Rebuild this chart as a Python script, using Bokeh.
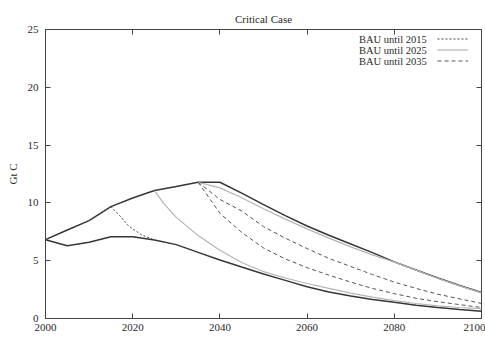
from bokeh.plotting import figure
from bokeh.models import Range1d, LinearAxis, FixedTicker, Legend, LegendItem
from bokeh.embed import file_html
from bokeh.resources import INLINE

# ---- data ----
years = [2000, 2005, 2010, 2015, 2020, 2025, 2030, 2035, 2040, 2045, 2050,
         2055, 2060, 2065, 2070, 2075, 2080, 2085, 2090, 2095, 2100]
upper = [6.82, 7.66, 8.47, 9.68, 10.43, 11.07, 11.41, 11.79, 11.79, 10.85, 9.85,
         8.9, 8.0, 7.2, 6.45, 5.7, 4.9, 4.2, 3.5, 2.85, 2.25]
lower = [6.82, 6.3, 6.59, 7.08, 7.08, 6.79, 6.39, 5.72, 5.06, 4.45, 3.85,
         3.3, 2.75, 2.3, 1.95, 1.65, 1.4, 1.15, 0.95, 0.78, 0.62]

years_2015 = [2015, 2017, 2019, 2020, 2022, 2025]
bau_2015 = [9.68, 8.9, 8.03, 7.75, 7.25, 6.79]

years_2025 = [2025, 2027, 2030, 2035, 2040, 2045, 2050, 2055, 2060, 2065, 2070,
              2075, 2080, 2085, 2090, 2095, 2100]
bau_2025 = [11.07, 10.0, 8.75, 7.17, 5.9, 4.85, 4.05, 3.5, 3.03, 2.6, 2.2,
            1.85, 1.55, 1.3, 1.1, 0.95, 0.85]

years_2035 = [2035, 2040, 2045, 2050, 2055, 2060, 2065, 2070, 2075, 2080,
              2085, 2090, 2095, 2100]
bau_2035_gray = [11.79, 11.3, 10.45, 9.5, 8.6, 7.75, 6.95, 6.2, 5.5, 4.88,
                 4.18, 3.48, 2.82, 2.22]
bau_2035_a = [11.79, 10.3, 9.3, 7.95, 6.95, 6.05, 5.2, 4.5, 3.8, 3.15,
              2.6, 2.1, 1.7, 1.3]
bau_2035_b = [11.79, 9.1, 7.45, 6.1, 5.15, 4.4, 3.75, 3.15, 2.6, 2.15,
              1.75, 1.45, 1.2, 0.95]

x_ticks = [2000, 2020, 2040, 2060, 2080, 2100]
y_ticks = [0, 5, 10, 15, 20, 25]
legend_labels = ["BAU until 2015", "BAU until 2025", "BAU until 2035"]

FONT = "Liberation Serif"
TXT = "#2a2a2a"

p = figure(width=485, height=338, output_backend="svg", toolbar_location=None,
           x_range=Range1d(2000, 2100), y_range=Range1d(0, 25),
           min_border_left=45, min_border_right=4, min_border_top=29,
           min_border_bottom=20, title="Critical Case")
p.background_fill_color = "white"
p.border_fill_color = "white"
p.grid.visible = False
p.outline_line_color = "#444444"
p.outline_line_width = 1

p.title.align = "center"
p.title.text_font = FONT
p.title.text_font_size = "11px"
p.title.text_font_style = "normal"
p.title.text_color = TXT

for ax, ticks in ((p.xaxis[0], x_ticks), (p.yaxis[0], y_ticks)):
    ax.ticker = FixedTicker(ticks=ticks)
    ax.major_tick_in = 5
    ax.major_tick_out = 0
    ax.minor_tick_line_color = None
    ax.axis_line_color = "#444444"
    ax.major_tick_line_color = "#444444"
    ax.major_label_text_font = FONT
    ax.major_label_text_font_size = "11px"
    ax.major_label_text_color = TXT
    ax.axis_label_text_font = FONT
    ax.axis_label_text_font_size = "11px"
    ax.axis_label_text_font_style = "normal"
    ax.axis_label_text_color = TXT

p.xaxis.major_label_standoff = 5
p.yaxis.major_label_standoff = 7
p.yaxis.axis_label = "Gt C"
p.yaxis.axis_label_standoff = 6

# mirrored tick marks on the top and right edges (no labels)
for loc, ticks in (("above", x_ticks), ("right", y_ticks)):
    ax = LinearAxis(ticker=FixedTicker(ticks=ticks), major_tick_in=5, major_tick_out=0,
                    minor_tick_line_color=None, axis_line_color=None,
                    major_tick_line_color="#444444",
                    major_label_text_font_size="1px", major_label_text_color=None,
                    major_label_standoff=0)
    p.add_layout(ax, loc)

DARK = "#363636"
GRAY = "#b4b4b4"

p.line(years, upper, line_color=DARK, line_width=1.5)
p.line(years, lower, line_color=DARK, line_width=1.5)
r2035g = p.line(years_2035, bau_2035_gray, line_color=GRAY, line_width=1.2)
r2035a = p.line(years_2035, bau_2035_a, line_color="#555555", line_width=1, line_dash="4 3")
r2035b = p.line(years_2035, bau_2035_b, line_color="#555555", line_width=1, line_dash="4 3")
r2025 = p.line(years_2025, bau_2025, line_color=GRAY, line_width=1.2)
r2015 = p.line(years_2015, bau_2015, line_color="#444444", line_width=1, line_dash="2 2")

renderers = [r2015, r2025, r2035a]

# text part of the key: one row per legend so the row pitch matches the reference
for label, rend, ypos in zip(legend_labels, renderers, (273, 262, 251)):
    leg_text = Legend(items=[LegendItem(label=label, renderers=[rend])],
                      location=(314, ypos), glyph_width=0, label_standoff=0,
                      label_text_font=FONT, label_text_font_size="10.5px", label_text_color=TXT,
                      label_height=10, glyph_height=10, spacing=0, padding=0, margin=0,
                      border_line_color=None, background_fill_alpha=0)
    p.add_layout(leg_text)

# line-sample part of the key (to the right of the text, as in the reference)
leg_line = Legend(items=[LegendItem(label=l, renderers=[r]) for l, r in zip(legend_labels, renderers)],
                  location=(392, 252), glyph_width=31, label_standoff=0, label_width=0,
                  label_text_font_size="1px", label_text_color=None,
                  label_height=11, glyph_height=11, spacing=0, padding=0, margin=0,
                  border_line_color=None, background_fill_alpha=0)
p.add_layout(leg_line)

open("out.html", "w").write(file_html(p, INLINE))
